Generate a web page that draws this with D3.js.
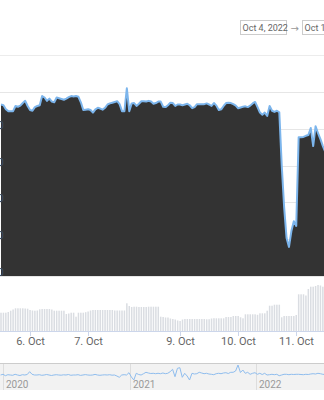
<!DOCTYPE html>
<html>
<head>
<meta charset="utf-8">
<script src="https://cdn.jsdelivr.net/npm/d3@7"></script>
<style>
  html, body { margin: 0; padding: 0; background: #fff; }
  svg { display: block; font-family: Roboto, "Liberation Sans", Arial, sans-serif; }
</style>
</head>
<body>
<div id="chart"></div>
<script>
// hourly points, ordinal axis (weekend hours missing)
const priceValues = [
  46.6, 46.4, 45.3, 44.8, 44.8, 44.8, 46.2, 46.0, 46.3, 47.0, 47.6, 46.2, 45.1, 44.9, 45.9, 46.2, 46.4, 48.9, 48.5, 47.6,
  48.2, 47.4, 47.2, 48.5, 48.3, 48.1, 47.9, 48.2, 48.6, 48.9, 48.8, 48.9, 48.7, 47.2, 45.1, 45.2, 45.3, 45.1, 44.4, 45.3,
  45.7, 45.5, 45.2, 45.7, 46.6, 46.9, 47.1, 47.3, 47.5, 46.7, 44.8, 44.8, 51.0, 44.8, 46.9, 47.0, 46.2, 46.8, 47.5, 47.5,
  47.4, 47.6, 47.4, 46.8, 47.0, 47.4, 47.4, 46.0, 45.9, 46.4, 47.1, 47.0, 46.2, 46.6, 46.6, 46.4, 46.6, 46.8, 46.4, 45.6,
  45.9, 46.7, 46.7, 46.7, 46.7, 46.9, 46.6, 46.2, 47.0, 46.3, 45.1, 45.3, 46.2, 47.0, 47.1, 47.0, 46.7, 46.3, 45.6, 45.8,
  46.0, 46.1, 45.9, 46.3, 46.9, 47.3, 45.9, 44.4, 43.8, 44.4, 43.5, 46.2, 44.9, 44.6, 44.9, 44.5, 30.1, 18.7, 10.3, 7.9,
  12.2, 14.9, 13.6, 37.7, 37.7, 37.8, 38.1, 38.3, 40.2, 35.3, 40.7, 38.8, 37.2, 35.3, 33.7
];

const volumeValues = [
  18.3, 18.3, 18.3, 19.0, 20.3, 21.5, 22.7, 22.7, 22.7, 22.7, 22.5, 22.3, 21.0, 20.5, 20.3, 20.5, 21.7, 22.0, 22.0, 22.0,
  22.0, 21.5, 20.3, 20.3, 20.3, 20.3, 20.3, 17.0, 17.5, 18.3, 18.3, 14.3, 18.3, 18.3, 18.3, 18.8, 19.5, 20.5, 21.0, 21.0,
  21.0, 21.0, 21.0, 21.0, 21.0, 21.0, 21.0, 20.5, 20.5, 20.5, 20.5, 20.5, 27.7, 25.0, 24.0, 24.3, 24.3, 24.0, 24.0, 24.0,
  24.0, 24.3, 24.3, 24.3, 24.3, 24.3, 14.3, 14.0, 13.5, 13.5, 12.5, 12.0, 11.5, 10.5, 10.0, 11.5, 12.0, 12.0, 12.0, 12.0,
  12.0, 12.0, 12.0, 12.0, 12.0, 11.7, 11.8, 12.5, 12.8, 12.7, 12.7, 12.7, 12.7, 14.0, 14.0, 14.0, 15.0, 15.0, 15.0, 13.7,
  12.7, 16.7, 16.7, 16.7, 16.7, 16.7, 16.2, 17.7, 17.7, 17.7, 20.3, 25.3, 25.3, 26.3, 26.3, 26.3, 13.7, 15.0, 15.0, 15.0,
  15.0, 15.0, 16.0, 36.7, 36.7, 36.7, 35.5, 42.0, 44.3, 44.3, 45.0, 46.0, 45.5, 44.3, 44.0
];

const dayLabels = ["6. Oct", "7. Oct", "9. Oct", "10. Oct", "11. Oct"];
const dayIndex = [12, 36, 74, 98, 122];
const priceTicks = [0, 10, 20, 30, 40, 50];

// navigator: weekly points from 25 Dec 2019
const navStart = new Date(2019, 11, 25);
const navValues = [
  15, 15.7, 14.3, 15.3, 15, 14.7, 15.7, 15, 14.5, 15.3, 15, 15.5, 18.3, 15.7, 15,
  15, 15.3, 14.7, 15, 15.5, 15, 14.5, 15, 15.3, 15, 14.8, 15.2, 15, 15.5, 14.7, 15, 15, 15.3,
  14.6, 15, 15.4, 15, 14.8, 15, 15.6, 15, 14.7, 15, 15.2, 15, 15.3, 14.8, 15,
  14, 12.7, 15, 15.3, 15, 17.3, 13, 10, 16.7, 15.5, 15, 16.3, 17.7, 17, 16.5, 16.7, 16.3,
  16.7, 16.3, 17, 16.3, 16.7, 18.3, 20.7, 13.3, 21.7, 22.3, 12.7, 16.7, 14, 10, 16.7, 16,
  16.3, 17.7, 17, 16.3, 16.7, 16, 15.7, 15.3, 16.3, 16.7, 16.3, 17, 17.3, 16.5, 17.7, 17.7,
  19, 25, 17.5, 20, 16.7, 17.7, 15.7, 16.7, 17.3, 15.7, 16.7, 15.5, 16.7, 15, 15.3, 15.7,
  15.3, 15.7, 14.3, 15, 15.7, 15.7, 15.3, 15.7, 15.5, 15.7, 15.7, 15.5, 15.3, 15.7, 15.5,
  16, 16.3, 16, 16.7, 16.3, 15.7, 15.5
];

const fromLabel = "Oct 4, 2022";
const toLabel = "Oct 11, 2022";

const width = 324, height = 400;
const svg = d3.select("#chart").append("svg")
  .attr("width", width)
  .attr("height", height);

// range selector inputs
const rs = svg.append("g").attr("class", "rangeInputs");
rs.append("rect").attr("x", 240.5).attr("y", 20.5).attr("width", 46).attr("height", 14)
  .attr("fill", "#fff").attr("stroke", "#cccccc");
rs.append("text").attr("x", 242.5).attr("y", 31).attr("font-size", 9).attr("fill", "#666")
  .text(fromLabel);
rs.append("text").attr("x", 290.5).attr("y", 31.5).attr("font-size", 10)
  .attr("font-family", "'DejaVu Sans', sans-serif").attr("fill", "#999")
  .text("\u2192");
rs.append("rect").attr("x", 302.5).attr("y", 20.5).attr("width", 46).attr("height", 14)
  .attr("fill", "#fff").attr("stroke", "#cccccc");
rs.append("text").attr("x", 304.5).attr("y", 31).attr("font-size", 9).attr("fill", "#666")
  .text(toLabel);

svg.append("line").attr("x1", 0).attr("x2", width).attr("y1", 55.5).attr("y2", 55.5)
  .attr("stroke", "#ececec");

// scales
const x = d3.scaleLinear().domain([0, priceValues.length - 1]).range([1, 1 + (priceValues.length - 1) * 2.42]);
const y = d3.scaleLinear().domain([0, 50]).range([276, 92]);
const yVol = d3.scaleLinear().domain([0, 50]).range([331, 281]);

// grid
svg.append("g").selectAll("line").data(priceTicks).enter().append("line")
  .attr("x1", 0).attr("x2", width)
  .attr("y1", d => Math.round(y(d)) + 0.5).attr("y2", d => Math.round(y(d)) + 0.5)
  .attr("stroke", "#e6e6e6");

const area = d3.area().x((d, i) => x(i)).y0(y(0)).y1(d => y(d));
const line = d3.line().x((d, i) => x(i)).y(d => y(d));

svg.append("path").datum(priceValues).attr("d", area).attr("fill", "#333333");
svg.append("path").datum(priceValues).attr("d", line)
  .attr("fill", "none").attr("stroke", "#7cb5ec").attr("stroke-width", 2)
  .attr("stroke-linejoin", "round");

// y labels (cut off at the left edge)
svg.append("g").selectAll("text").data(priceTicks.slice(0, -1)).enter().append("text")
  .attr("x", 4).attr("y", d => y(d))
  .attr("text-anchor", "end").attr("font-size", 11).attr("fill", "#3d4a60")
  .text(d => d);

// volume
const barW = 1.5;
svg.append("g").selectAll("rect").data(volumeValues).enter().append("rect")
  .attr("x", (d, i) => x(i) - barW / 2)
  .attr("y", d => yVol(d))
  .attr("width", barW)
  .attr("height", d => yVol(0) - yVol(d))
  .attr("fill", "#dadde2");

svg.append("line").attr("x1", 0).attr("x2", width)
  .attr("y1", yVol(0) + 0.5).attr("y2", yVol(0) + 0.5).attr("stroke", "#ccd6eb");

const xt = svg.append("g").selectAll("g").data(dayLabels).enter().append("g")
  .attr("transform", (d, i) => `translate(${Math.round(x(dayIndex[i])) + 0.5},0)`);
xt.append("line").attr("y1", yVol(0)).attr("y2", yVol(0) + 5).attr("stroke", "#ccd6eb");
xt.append("text").attr("y", 345).attr("text-anchor", "middle")
  .attr("font-size", 11).attr("fill", "#666").text(d => d);

// navigator
const navDates = navValues.map((v, k) => d3.timeDay.offset(navStart, k * 7));
const xNav = d3.scaleTime().domain([new Date(2020, 0, 1), new Date(2022, 0, 1)]).range([3, 256]);
const yNav = d3.scaleLinear().domain([0, 27]).range([390, 363]);

svg.append("rect").attr("x", 0).attr("y", yNav(27)).attr("width", width)
  .attr("height", yNav(0) - yNav(27)).attr("fill", "#f2f2f2");

const years = xNav.ticks(d3.timeYear.every(1)).concat([new Date(2022, 0, 1)])
  .filter((d, i, a) => a.findIndex(e => +e === +d) === i);
const ny = svg.append("g").selectAll("g").data(years).enter().append("g")
  .attr("transform", d => `translate(${Math.round(xNav(d)) + 0.5},0)`);
ny.append("line").attr("y1", yNav(27)).attr("y2", yNav(0)).attr("stroke", "#dddddd");
ny.append("text").attr("x", 2.5).attr("y", 388).attr("font-size", 10).attr("fill", "#999")
  .text(d3.timeFormat("%Y"));

svg.append("path").datum(navValues)
  .attr("d", d3.line().x((d, k) => xNav(navDates[k])).y(d => yNav(d)))
  .attr("fill", "none").attr("stroke", "#8fbdee").attr("stroke-width", 1);

svg.append("line").attr("x1", 0).attr("x2", width)
  .attr("y1", yNav(27) + 0.5).attr("y2", yNav(27) + 0.5).attr("stroke", "#cccccc");
</script>
</body>
</html>
